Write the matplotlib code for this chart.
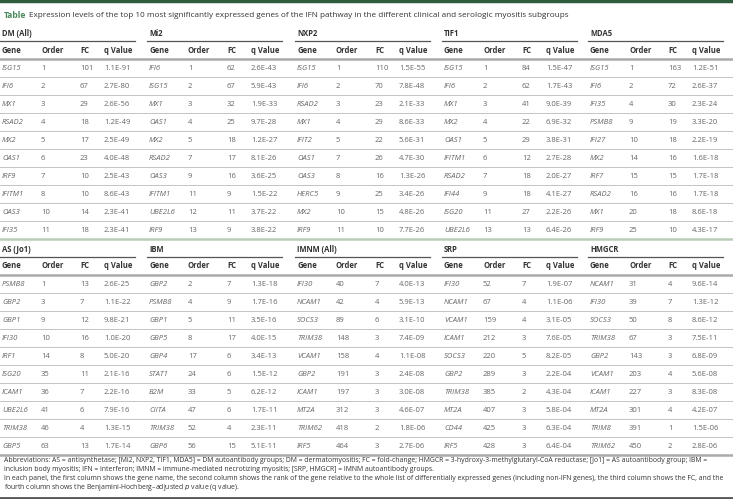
import matplotlib
matplotlib.use("Agg")
import matplotlib.pyplot as plt

plt.rcParams['font.family'] = ['Open Sans', 'DejaVu Sans']

title_word = "Table"
title_rest = ("Expression levels of the top 10 most significantly expressed genes of the IFN pathway "
              "in the different clinical and serologic myositis subgroups")
col_names = ["Gene", "Order", "FC", "q Value"]

top_groups = ["DM (All)", "Mi2", "NXP2", "TIF1", "MDA5"]
top_genes = [
    ["ISG15", "IFI6", "MX1", "RSAD2", "MX2", "OAS1", "IRF9", "IFITM1", "OAS3", "IFI35"],
    ["IFI6", "ISG15", "MX1", "OAS1", "MX2", "RSAD2", "OAS3", "IFITM1", "UBE2L6", "IRF9"],
    ["ISG15", "IFI6", "RSAD2", "MX1", "IFIT2", "OAS1", "OAS3", "HERC5", "MX2", "IRF9"],
    ["ISG15", "IFI6", "MX1", "MX2", "OAS1", "IFITM1", "RSAD2", "IFI44", "ISG20", "UBE2L6"],
    ["ISG15", "IFI6", "IFI35", "PSMB8", "IFI27", "MX2", "IRF7", "RSAD2", "MX1", "IRF9"],
]
top_order = [
    [1, 2, 3, 4, 5, 6, 7, 8, 10, 11],
    [1, 2, 3, 4, 5, 7, 9, 11, 12, 13],
    [1, 2, 3, 4, 5, 7, 8, 9, 10, 11],
    [1, 2, 3, 4, 5, 6, 7, 9, 11, 13],
    [1, 2, 4, 9, 10, 14, 15, 16, 20, 25],
]
top_fc = [
    [101, 67, 29, 18, 17, 23, 10, 10, 14, 18],
    [62, 67, 32, 25, 18, 17, 16, 9, 11, 9],
    [110, 70, 23, 29, 22, 26, 16, 25, 15, 10],
    [84, 62, 41, 22, 29, 12, 18, 18, 27, 13],
    [163, 72, 30, 19, 18, 16, 15, 16, 18, 10],
]
top_q = [
    ["1.1E-91", "2.7E-80", "2.6E-56", "1.2E-49", "2.5E-49", "4.0E-48", "2.5E-43", "8.6E-43", "2.3E-41", "2.3E-41"],
    ["2.6E-43", "5.9E-43", "1.9E-33", "9.7E-28", "1.2E-27", "8.1E-26", "3.6E-25", "1.5E-22", "3.7E-22", "3.8E-22"],
    ["1.5E-55", "7.8E-48", "2.1E-33", "8.6E-33", "5.6E-31", "4.7E-30", "1.3E-26", "3.4E-26", "4.8E-26", "7.7E-26"],
    ["1.5E-47", "1.7E-43", "9.0E-39", "6.9E-32", "3.8E-31", "2.7E-28", "2.0E-27", "4.1E-27", "2.2E-26", "6.4E-26"],
    ["1.2E-51", "2.6E-37", "2.3E-24", "3.3E-20", "2.2E-19", "1.6E-18", "1.7E-18", "1.7E-18", "8.6E-18", "4.3E-17"],
]

bottom_groups = ["AS (Jo1)", "IBM", "IMNM (All)", "SRP", "HMGCR"]
bottom_genes = [
    ["PSMB8", "GBP2", "GBP1", "IFI30", "IRF1", "ISG20", "ICAM1", "UBE2L6", "TRIM38", "GBP5"],
    ["GBP2", "PSMB8", "GBP1", "GBP5", "GBP4", "STAT1", "B2M", "CIITA", "TRIM38", "GBP6"],
    ["IFI30", "NCAM1", "SOCS3", "TRIM38", "VCAM1", "GBP2", "ICAM1", "MT2A", "TRIM62", "IRF5"],
    ["IFI30", "NCAM1", "VCAM1", "ICAM1", "SOCS3", "GBP2", "TRIM38", "MT2A", "CD44", "IRF5"],
    ["NCAM1", "IFI30", "SOCS3", "TRIM38", "GBP2", "VCAM1", "ICAM1", "MT2A", "TRIM8", "TRIM62"],
]
bottom_order = [
    [1, 3, 9, 10, 14, 35, 36, 41, 46, 63],
    [2, 4, 5, 8, 17, 24, 33, 47, 52, 56],
    [40, 42, 89, 148, 158, 191, 197, 312, 418, 464],
    [52, 67, 159, 212, 220, 289, 385, 407, 425, 428],
    [31, 39, 50, 67, 143, 203, 227, 301, 391, 450],
]
bottom_fc = [
    [13, 7, 12, 16, 8, 11, 7, 6, 4, 13],
    [7, 9, 11, 17, 6, 6, 5, 6, 4, 15],
    [7, 4, 6, 3, 4, 3, 3, 3, 2, 3],
    [7, 4, 4, 3, 5, 3, 2, 3, 3, 3],
    [4, 7, 8, 3, 3, 4, 3, 4, 1, 2],
]
bottom_q = [
    ["2.6E-25", "1.1E-22", "9.8E-21", "1.0E-20", "5.0E-20", "2.1E-16", "2.2E-16", "7.9E-16", "1.3E-15", "1.7E-14"],
    ["1.3E-18", "1.7E-16", "3.5E-16", "4.0E-15", "3.4E-13", "1.5E-12", "6.2E-12", "1.7E-11", "2.3E-11", "5.1E-11"],
    ["4.0E-13", "5.9E-13", "3.1E-10", "7.4E-09", "1.1E-08", "2.4E-08", "3.0E-08", "4.6E-07", "1.8E-06", "2.7E-06"],
    ["1.9E-07", "1.1E-06", "3.1E-05", "7.6E-05", "8.2E-05", "2.2E-04", "4.3E-04", "5.8E-04", "6.3E-04", "6.4E-04"],
    ["9.6E-14", "1.3E-12", "8.6E-12", "7.5E-11", "6.8E-09", "5.6E-08", "8.3E-08", "4.2E-07", "1.5E-06", "2.8E-06"],
]

footer_lines = [
    "Abbreviations: AS = antisynthetase; [Mi2, NXP2, TIF1, MDA5] = DM autoantibody groups; DM = dermatomyositis; FC = fold-change; HMGCR = 3-hydroxy-3-methylglutaryl-CoA reductase; [Jo1] = AS autoantibody group; IBM =",
    "inclusion body myositis; IFN = interferon; IMNM = immune-mediated necrotizing myositis; [SRP, HMGCR] = IMNM autoantibody groups.",
    "In each panel, the first column shows the gene name, the second column shows the rank of the gene relative to the whole list of differentially expressed genes (including non-IFN genes), the third column shows the FC, and the",
    r"fourth column shows the Benjamini-Hochberg–adjusted $\it{p}$ value (q value).",
]

# layout in pixels
group_x = [2, 149, 297, 444, 590]
col_dx = [0, 39, 78, 102]
row_h = 18

dark = "#333333"
grey = "#666666"
green = "#4a8a5a"
fs = 5.5

fig = plt.figure(figsize=(7.33, 4.99), dpi=100)
ax = fig.add_axes([0, 0, 1, 1])
ax.set_xlim(0, 733)
ax.set_ylim(499, 0)
ax.axis("off")

# top and bottom bars
ax.axhline(1, color="#2f5d3c", lw=2.5)
ax.axhline(498, color="#555555", lw=2)

# title
t = ax.text(4, 15, title_word, fontsize=6.2, fontweight="bold", color=green, va="center")
fig.canvas.draw()
bb = t.get_window_extent(fig.canvas.get_renderer())
ax.text(bb.x1 + 3, 15, title_rest, fontsize=5.9, color=dark, va="center")


def draw_panel(y0, groups, genes, orders, fcs, qs, end_color):
    for g, gx in enumerate(group_x):
        ax.text(gx, y0, groups[g], fontsize=fs, fontweight="bold", color=dark, va="center")
        ax.plot([gx - 2, gx + 133], [y0 + 8, y0 + 8], color="#555555", lw=0.9)
        for c, name in enumerate(col_names):
            ax.text(gx + col_dx[c], y0 + 17, name, fontsize=fs, fontweight="bold",
                    color=dark, va="center")
        for r in range(10):
            y = y0 + 35 + r * row_h
            ax.text(gx, y, genes[g][r], fontsize=fs, style="italic", color=grey, va="center")
            ax.text(gx + col_dx[1], y, str(orders[g][r]), fontsize=fs, color=grey, va="center")
            ax.text(gx + col_dx[2], y, str(fcs[g][r]), fontsize=fs, color=grey, va="center")
            ax.text(gx + col_dx[3], y, qs[g][r], fontsize=fs, color=grey, va="center")
    # header rule
    ax.plot([0, 733], [y0 + 26, y0 + 26], color="#aaaaaa", lw=1.8)
    for r in range(1, 10):
        y = y0 + 26 + r * row_h
        ax.plot([0, 733], [y, y], color="#c4c4c4", lw=0.7)
    ax.plot([0, 733], [y0 + 26 + 10 * row_h, y0 + 26 + 10 * row_h], color=end_color, lw=1.8)


draw_panel(33, top_groups, top_genes, top_order, top_fc, top_q, "#b9cdb9")
draw_panel(249, bottom_groups, bottom_genes, bottom_order, bottom_fc, bottom_q, "#aaaaaa")

for i, line in enumerate(footer_lines):
    ax.text(4, 461 + i * 8.7, line, fontsize=4.98, color=dark, va="center")

fig.savefig("out.png", dpi=100)
